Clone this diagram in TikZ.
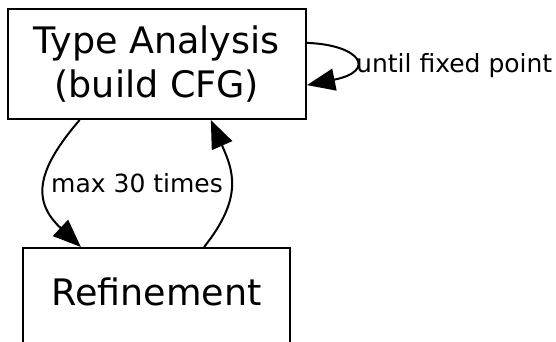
\documentclass[tikz,border=0pt]{standalone}
\usepackage{fontspec}
\setmainfont{DejaVu Sans}
\usetikzlibrary{arrows.meta}
\begin{document}
\begin{tikzpicture}[x=1pt,y=1pt,
  boxnode/.style={draw=black, line width=2pt, rectangle, inner sep=0pt, align=center,
    font=\fontsize{36.5}{44}\selectfont},
  edgelbl/.style={inner sep=0pt, anchor=base west, font=\fontsize{25}{29}\selectfont},
  flow/.style={line width=2pt, -{Triangle[length=28pt,width=22pt]}}]
\useasboundingbox (0,0) rectangle (556,-342);
\clip (0,0) rectangle (556,-342);
\node[boxnode, minimum width=298.5pt, minimum height=110pt] (ta) at (156.75,-64) {Type Analysis\\(build CFG)};
\node[boxnode, minimum width=267pt, minimum height=100pt, text height=27.7pt, text depth=13.7pt] (rf) at (156.5,-298) {Refinement};
\draw[flow] (ta.8) .. controls +(54,-2) and +(70,14) .. (ta.-8.4);
\draw[flow] (ta.216.7) .. controls +(-45,-52) and +(-48,45) .. (rf.146.5);
\draw[flow] (rf.47.1) .. controls +(40,50) and +(22,-50) .. (ta.-46.5);
\node[edgelbl] (lfix) at (356,-73) {until fixed point};
\node[edgelbl] (lmax) at (51,-192) {max 30 times};
\end{tikzpicture}
\end{document}
